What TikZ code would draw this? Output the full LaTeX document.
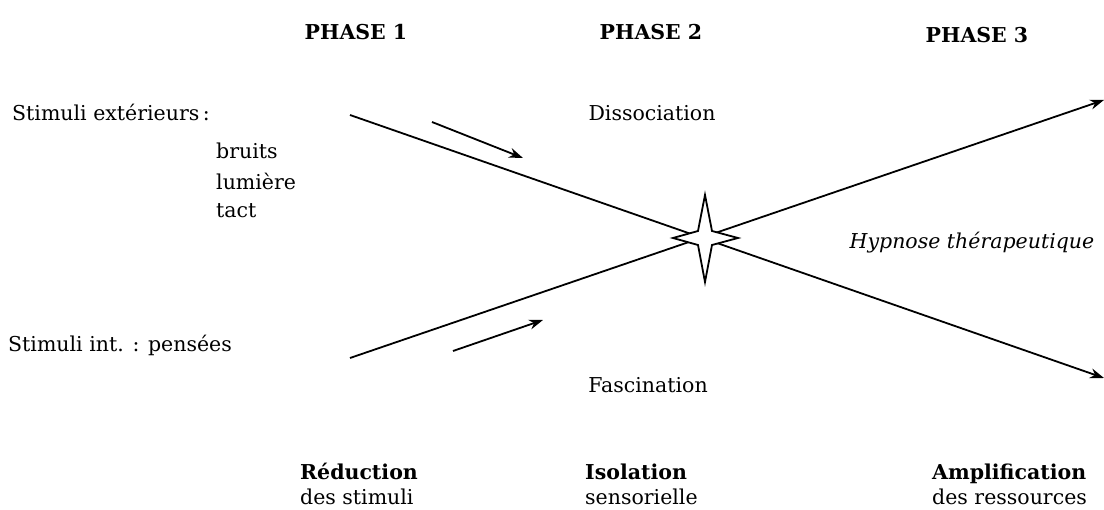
\documentclass[tikz,border=0pt]{standalone}
\usepackage{fontspec}
\setmainfont{DejaVu Serif}
\usetikzlibrary{arrows.meta}
\begin{document}
\begin{tikzpicture}[x=1pt,y=-1pt,
  lbl/.style={font=\fontsize{20.5}{24}\selectfont, inner sep=0pt},
  hd/.style={lbl, font=\fontsize{20.5}{24}\selectfont\bfseries},
  two/.style={lbl, anchor=west, align=left, font=\fontsize{20.5}{25}\selectfont},
  ln/.style={line width=1.8pt, -{Stealth[length=14pt,width=10pt]}},
  sm/.style={line width=1.8pt, -{Stealth[length=14pt,width=10pt]}}]
\useasboundingbox (0,0) rectangle (1104,510);
% phases
\node[hd] (p1) at (356,32) {PHASE 1};
\node[hd] (p2) at (651,32) {PHASE 2};
\node[hd] (p3) at (977,35) {PHASE 3};
% main lines
\coordinate (a1) at (350,115);
\coordinate (a2) at (1104,378);
\coordinate (b1) at (350,358);
\coordinate (b2) at (1104,100);
\draw[ln] (a1) -- (a2);
\draw[ln] (b1) -- (b2);
% small arrows
\coordinate (s1) at (432,122);
\coordinate (s2) at (523,158);
\coordinate (t1) at (453,351);
\coordinate (t2) at (543,320);
\draw[sm] (s1) -- (s2);
\draw[sm] (t1) -- (t2);
% star
\node[inner sep=0pt] (star) at (705,238) {};
\draw[line width=1.8pt, fill=white, line join=miter]
  (705,195) -- (712,231) -- (738,238) -- (712,245) -- (705,282)
  -- (698,245) -- (673,238) -- (698,231) -- cycle;
% labels
\node[lbl, anchor=west] (se) at (12,112) {Stimuli extérieurs\,:};
\node[lbl, anchor=west] (br) at (216,151) {bruits};
\node[lbl, anchor=west] (lu) at (216,181) {lumière};
\node[lbl, anchor=west] (ta) at (216,211) {tact};
\node[lbl] (di) at (652,113) {Dissociation};
\node[lbl, font=\fontsize{20.5}{24}\selectfont\itshape] (hy) at (972,243) {Hypnose thérapeutique};
\node[lbl, anchor=west] (si) at (8,345) {Stimuli int. : pensées};
\node[lbl] (fa) at (648,385) {Fascination};
\node[two] (re) at (300,484) {\textbf{Réduction}\\des stimuli};
\node[two] (is) at (585,484) {\textbf{Isolation}\\sensorielle};
\node[two] (am) at (932,484) {\textbf{Amplification}\\des ressources};
\end{tikzpicture}
\end{document}
